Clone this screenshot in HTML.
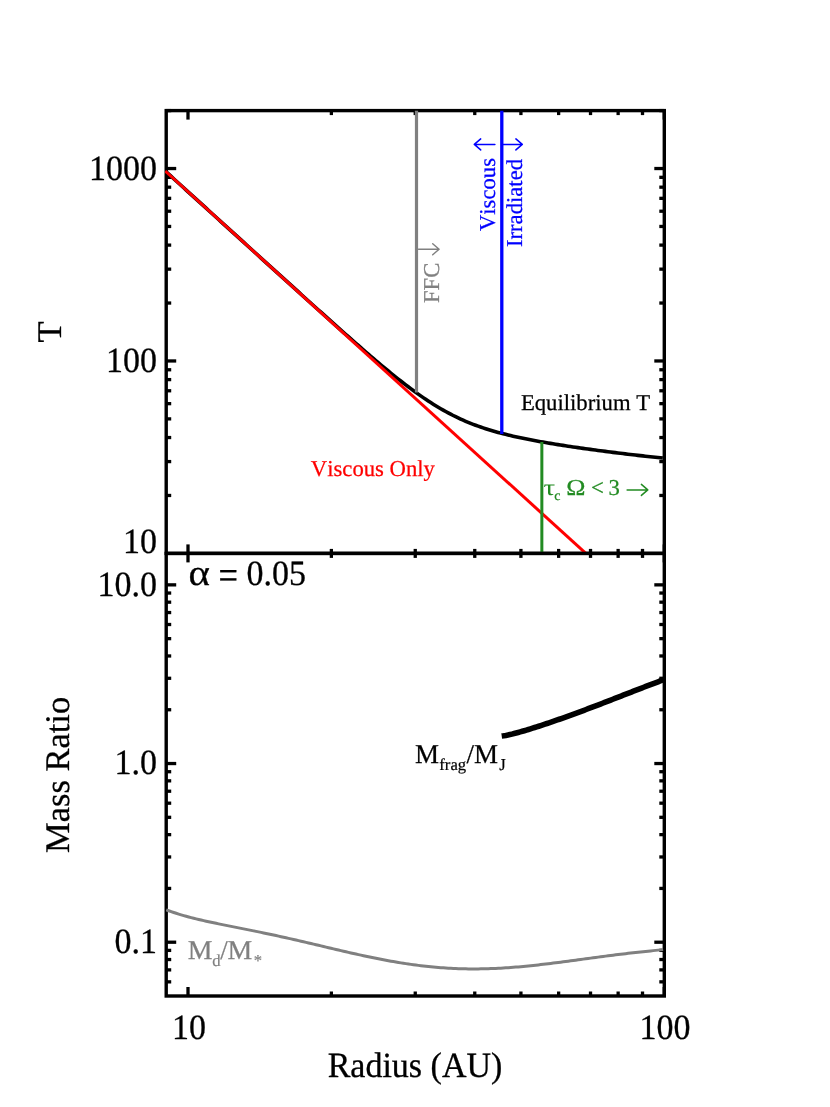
<!DOCTYPE html>
<html><head><meta charset="utf-8"><title>Disk temperature and mass ratio</title>
<style>
html,body{margin:0;padding:0;background:#fff;}
body{width:830px;height:1107px;overflow:hidden;}
svg{display:block;font-family:"Liberation Serif",serif;font-kerning:none;will-change:transform;text-rendering:geometricPrecision;}
</style></head><body>
<svg width="830" height="1107" viewBox="0 0 830 1107">
<defs>
<clipPath id="c1"><rect x="165.01" y="110.60" width="499.29" height="442.80"/></clipPath>
<clipPath id="c2"><rect x="165.71" y="553.40" width="498.59" height="442.60"/></clipPath>
</defs>
<rect width="830" height="1107" fill="#fff"/>
<rect x="166.21" y="110.60" width="498.09" height="442.80" fill="none" stroke="#000" stroke-width="3.4"/>
<line x1="188.00" y1="110.60" x2="188.00" y2="119.60" stroke="#000" stroke-width="3.3" stroke-linecap="butt"/>
<line x1="188.00" y1="553.40" x2="188.00" y2="544.40" stroke="#000" stroke-width="3.3" stroke-linecap="butt"/>
<line x1="331.38" y1="110.60" x2="331.38" y2="115.10" stroke="#000" stroke-width="3.3" stroke-linecap="butt"/>
<line x1="331.38" y1="553.40" x2="331.38" y2="548.90" stroke="#000" stroke-width="3.3" stroke-linecap="butt"/>
<line x1="415.25" y1="110.60" x2="415.25" y2="115.10" stroke="#000" stroke-width="3.3" stroke-linecap="butt"/>
<line x1="415.25" y1="553.40" x2="415.25" y2="548.90" stroke="#000" stroke-width="3.3" stroke-linecap="butt"/>
<line x1="474.76" y1="110.60" x2="474.76" y2="115.10" stroke="#000" stroke-width="3.3" stroke-linecap="butt"/>
<line x1="474.76" y1="553.40" x2="474.76" y2="548.90" stroke="#000" stroke-width="3.3" stroke-linecap="butt"/>
<line x1="520.92" y1="110.60" x2="520.92" y2="115.10" stroke="#000" stroke-width="3.3" stroke-linecap="butt"/>
<line x1="520.92" y1="553.40" x2="520.92" y2="548.90" stroke="#000" stroke-width="3.3" stroke-linecap="butt"/>
<line x1="558.63" y1="110.60" x2="558.63" y2="115.10" stroke="#000" stroke-width="3.3" stroke-linecap="butt"/>
<line x1="558.63" y1="553.40" x2="558.63" y2="548.90" stroke="#000" stroke-width="3.3" stroke-linecap="butt"/>
<line x1="590.52" y1="110.60" x2="590.52" y2="115.10" stroke="#000" stroke-width="3.3" stroke-linecap="butt"/>
<line x1="590.52" y1="553.40" x2="590.52" y2="548.90" stroke="#000" stroke-width="3.3" stroke-linecap="butt"/>
<line x1="618.14" y1="110.60" x2="618.14" y2="115.10" stroke="#000" stroke-width="3.3" stroke-linecap="butt"/>
<line x1="618.14" y1="553.40" x2="618.14" y2="548.90" stroke="#000" stroke-width="3.3" stroke-linecap="butt"/>
<line x1="642.51" y1="110.60" x2="642.51" y2="115.10" stroke="#000" stroke-width="3.3" stroke-linecap="butt"/>
<line x1="642.51" y1="553.40" x2="642.51" y2="548.90" stroke="#000" stroke-width="3.3" stroke-linecap="butt"/>
<line x1="664.30" y1="110.60" x2="664.30" y2="119.60" stroke="#000" stroke-width="3.3" stroke-linecap="butt"/>
<line x1="664.30" y1="553.40" x2="664.30" y2="544.40" stroke="#000" stroke-width="3.3" stroke-linecap="butt"/>
<line x1="166.21" y1="495.47" x2="171.21" y2="495.47" stroke="#000" stroke-width="3.3" stroke-linecap="butt"/>
<line x1="664.30" y1="495.47" x2="659.30" y2="495.47" stroke="#000" stroke-width="3.3" stroke-linecap="butt"/>
<line x1="166.21" y1="461.58" x2="171.21" y2="461.58" stroke="#000" stroke-width="3.3" stroke-linecap="butt"/>
<line x1="664.30" y1="461.58" x2="659.30" y2="461.58" stroke="#000" stroke-width="3.3" stroke-linecap="butt"/>
<line x1="166.21" y1="437.54" x2="171.21" y2="437.54" stroke="#000" stroke-width="3.3" stroke-linecap="butt"/>
<line x1="664.30" y1="437.54" x2="659.30" y2="437.54" stroke="#000" stroke-width="3.3" stroke-linecap="butt"/>
<line x1="166.21" y1="418.89" x2="171.21" y2="418.89" stroke="#000" stroke-width="3.3" stroke-linecap="butt"/>
<line x1="664.30" y1="418.89" x2="659.30" y2="418.89" stroke="#000" stroke-width="3.3" stroke-linecap="butt"/>
<line x1="166.21" y1="403.66" x2="171.21" y2="403.66" stroke="#000" stroke-width="3.3" stroke-linecap="butt"/>
<line x1="664.30" y1="403.66" x2="659.30" y2="403.66" stroke="#000" stroke-width="3.3" stroke-linecap="butt"/>
<line x1="166.21" y1="390.77" x2="171.21" y2="390.77" stroke="#000" stroke-width="3.3" stroke-linecap="butt"/>
<line x1="664.30" y1="390.77" x2="659.30" y2="390.77" stroke="#000" stroke-width="3.3" stroke-linecap="butt"/>
<line x1="166.21" y1="379.61" x2="171.21" y2="379.61" stroke="#000" stroke-width="3.3" stroke-linecap="butt"/>
<line x1="664.30" y1="379.61" x2="659.30" y2="379.61" stroke="#000" stroke-width="3.3" stroke-linecap="butt"/>
<line x1="166.21" y1="369.77" x2="171.21" y2="369.77" stroke="#000" stroke-width="3.3" stroke-linecap="butt"/>
<line x1="664.30" y1="369.77" x2="659.30" y2="369.77" stroke="#000" stroke-width="3.3" stroke-linecap="butt"/>
<line x1="166.21" y1="360.96" x2="176.21" y2="360.96" stroke="#000" stroke-width="3.3" stroke-linecap="butt"/>
<line x1="664.30" y1="360.96" x2="654.30" y2="360.96" stroke="#000" stroke-width="3.3" stroke-linecap="butt"/>
<line x1="166.21" y1="303.04" x2="171.21" y2="303.04" stroke="#000" stroke-width="3.3" stroke-linecap="butt"/>
<line x1="664.30" y1="303.04" x2="659.30" y2="303.04" stroke="#000" stroke-width="3.3" stroke-linecap="butt"/>
<line x1="166.21" y1="269.15" x2="171.21" y2="269.15" stroke="#000" stroke-width="3.3" stroke-linecap="butt"/>
<line x1="664.30" y1="269.15" x2="659.30" y2="269.15" stroke="#000" stroke-width="3.3" stroke-linecap="butt"/>
<line x1="166.21" y1="245.11" x2="171.21" y2="245.11" stroke="#000" stroke-width="3.3" stroke-linecap="butt"/>
<line x1="664.30" y1="245.11" x2="659.30" y2="245.11" stroke="#000" stroke-width="3.3" stroke-linecap="butt"/>
<line x1="166.21" y1="226.46" x2="171.21" y2="226.46" stroke="#000" stroke-width="3.3" stroke-linecap="butt"/>
<line x1="664.30" y1="226.46" x2="659.30" y2="226.46" stroke="#000" stroke-width="3.3" stroke-linecap="butt"/>
<line x1="166.21" y1="211.22" x2="171.21" y2="211.22" stroke="#000" stroke-width="3.3" stroke-linecap="butt"/>
<line x1="664.30" y1="211.22" x2="659.30" y2="211.22" stroke="#000" stroke-width="3.3" stroke-linecap="butt"/>
<line x1="166.21" y1="198.34" x2="171.21" y2="198.34" stroke="#000" stroke-width="3.3" stroke-linecap="butt"/>
<line x1="664.30" y1="198.34" x2="659.30" y2="198.34" stroke="#000" stroke-width="3.3" stroke-linecap="butt"/>
<line x1="166.21" y1="187.18" x2="171.21" y2="187.18" stroke="#000" stroke-width="3.3" stroke-linecap="butt"/>
<line x1="664.30" y1="187.18" x2="659.30" y2="187.18" stroke="#000" stroke-width="3.3" stroke-linecap="butt"/>
<line x1="166.21" y1="177.33" x2="171.21" y2="177.33" stroke="#000" stroke-width="3.3" stroke-linecap="butt"/>
<line x1="664.30" y1="177.33" x2="659.30" y2="177.33" stroke="#000" stroke-width="3.3" stroke-linecap="butt"/>
<line x1="166.21" y1="168.53" x2="176.21" y2="168.53" stroke="#000" stroke-width="3.3" stroke-linecap="butt"/>
<line x1="664.30" y1="168.53" x2="654.30" y2="168.53" stroke="#000" stroke-width="3.3" stroke-linecap="butt"/>
<line x1="166.21" y1="110.60" x2="171.21" y2="110.60" stroke="#000" stroke-width="3.3" stroke-linecap="butt"/>
<line x1="664.30" y1="110.60" x2="659.30" y2="110.60" stroke="#000" stroke-width="3.3" stroke-linecap="butt"/>
<g clip-path="url(#c1)">
<path d="M166.21,171.90 L168.70,174.17 L171.20,176.44 L173.69,178.71 L176.19,180.97 L178.68,183.24 L181.18,185.51 L183.67,187.78 L186.17,190.05 L188.66,192.31 L191.16,194.58 L193.66,196.85 L196.15,199.12 L198.65,201.39 L201.14,203.65 L203.64,205.92 L206.13,208.19 L208.63,210.46 L211.12,212.72 L213.62,214.99 L216.11,217.26 L218.61,219.53 L221.11,221.79 L223.60,224.06 L226.10,226.33 L228.59,228.59 L231.09,230.86 L233.58,233.13 L236.08,235.39 L238.57,237.66 L241.07,239.93 L243.56,242.19 L246.06,244.46 L248.56,246.73 L251.05,248.99 L253.55,251.26 L256.04,253.52 L258.54,255.79 L261.03,258.05 L263.53,260.32 L266.02,262.58 L268.52,264.84 L271.01,267.11 L273.51,269.37 L276.01,271.63 L278.50,273.89 L281.00,276.15 L283.49,278.42 L285.99,280.68 L288.48,282.93 L290.98,285.19 L293.47,287.45 L295.97,289.71 L298.46,291.96 L300.96,294.22 L303.46,296.47 L305.95,298.73 L308.45,300.98 L310.94,303.23 L313.44,305.48 L315.93,307.72 L318.43,309.97 L320.92,312.21 L323.42,314.45 L325.91,316.69 L328.41,318.93 L330.91,321.16 L333.40,323.39 L335.90,325.62 L338.39,327.85 L340.89,330.07 L343.38,332.28 L345.88,334.50 L348.37,336.71 L350.87,338.91 L353.36,341.11 L355.86,343.30 L358.36,345.48 L360.85,347.66 L363.35,349.83 L365.84,352.00 L368.34,354.15 L370.83,356.30 L373.33,358.43 L375.82,360.56 L378.32,362.67 L380.81,364.78 L383.31,366.87 L385.81,368.94 L388.30,371.00 L390.80,373.04 L393.29,375.07 L395.79,377.08 L398.28,379.07 L400.78,381.03 L403.27,382.98 L405.77,384.90 L408.26,386.80 L410.76,388.68 L413.26,390.52 L415.75,392.34 L418.25,394.13 L420.74,395.89 L423.24,397.62 L425.73,399.31 L428.23,400.97 L430.72,402.59 L433.22,404.18 L435.71,405.73 L438.21,407.24 L440.71,408.71 L443.20,410.15 L445.70,411.54 L448.19,412.90 L450.69,414.21 L453.18,415.49 L455.68,416.73 L458.17,417.92 L460.67,419.08 L463.16,420.20 L465.66,421.28 L468.16,422.33 L470.65,423.34 L473.15,424.32 L475.64,425.26 L478.14,426.17 L480.63,427.05 L483.13,427.89 L485.62,428.71 L488.12,429.50 L490.61,430.27 L493.11,431.01 L495.60,431.72 L498.10,432.41 L500.60,433.08 L503.09,433.73 L505.59,434.36 L508.08,434.97 L510.58,435.57 L513.07,436.15 L515.57,436.71 L518.06,437.26 L520.56,437.79 L523.05,438.31 L525.55,438.82 L528.05,439.32 L530.54,439.81 L533.04,440.29 L535.53,440.75 L538.03,441.21 L540.52,441.66 L543.02,442.10 L545.51,442.54 L548.01,442.97 L550.50,443.39 L553.00,443.80 L555.50,444.21 L557.99,444.61 L560.49,445.01 L562.98,445.40 L565.48,445.78 L567.97,446.16 L570.47,446.54 L572.96,446.91 L575.46,447.28 L577.95,447.64 L580.45,448.00 L582.95,448.36 L585.44,448.71 L587.94,449.05 L590.43,449.40 L592.93,449.74 L595.42,450.08 L597.92,450.41 L600.41,450.74 L602.91,451.07 L605.40,451.39 L607.90,451.71 L610.40,452.03 L612.89,452.35 L615.39,452.66 L617.88,452.97 L620.38,453.27 L622.87,453.58 L625.37,453.88 L627.86,454.17 L630.36,454.47 L632.85,454.76 L635.35,455.05 L637.85,455.34 L640.34,455.62 L642.84,455.90 L645.33,456.18 L647.83,456.46 L650.32,456.73 L652.82,457.00 L655.31,457.27 L657.81,457.54 L660.30,457.80 L662.80,458.06" fill="none" stroke="#000" stroke-width="3.6" stroke-linejoin="round" />
<line x1="165.20" y1="170.99" x2="590.00" y2="557.13" stroke="#ff0000" stroke-width="3.0" stroke-linecap="butt"/>
<line x1="416.50" y1="110.60" x2="416.50" y2="392.38" stroke="#808080" stroke-width="3.2" stroke-linecap="butt"/>
<line x1="501.80" y1="110.60" x2="501.80" y2="433.90" stroke="#0000ff" stroke-width="3.3" stroke-linecap="butt"/>
<line x1="541.85" y1="441.90" x2="541.85" y2="553.40" stroke="#228b22" stroke-width="3.0" stroke-linecap="butt"/>
</g>
<rect x="166.21" y="553.40" width="498.09" height="442.60" fill="none" stroke="#000" stroke-width="3.4"/>
<line x1="188.00" y1="553.40" x2="188.00" y2="562.40" stroke="#000" stroke-width="3.3" stroke-linecap="butt"/>
<line x1="188.00" y1="996.00" x2="188.00" y2="987.00" stroke="#000" stroke-width="3.3" stroke-linecap="butt"/>
<line x1="331.38" y1="553.40" x2="331.38" y2="557.90" stroke="#000" stroke-width="3.3" stroke-linecap="butt"/>
<line x1="331.38" y1="996.00" x2="331.38" y2="991.50" stroke="#000" stroke-width="3.3" stroke-linecap="butt"/>
<line x1="415.25" y1="553.40" x2="415.25" y2="557.90" stroke="#000" stroke-width="3.3" stroke-linecap="butt"/>
<line x1="415.25" y1="996.00" x2="415.25" y2="991.50" stroke="#000" stroke-width="3.3" stroke-linecap="butt"/>
<line x1="474.76" y1="553.40" x2="474.76" y2="557.90" stroke="#000" stroke-width="3.3" stroke-linecap="butt"/>
<line x1="474.76" y1="996.00" x2="474.76" y2="991.50" stroke="#000" stroke-width="3.3" stroke-linecap="butt"/>
<line x1="520.92" y1="553.40" x2="520.92" y2="557.90" stroke="#000" stroke-width="3.3" stroke-linecap="butt"/>
<line x1="520.92" y1="996.00" x2="520.92" y2="991.50" stroke="#000" stroke-width="3.3" stroke-linecap="butt"/>
<line x1="558.63" y1="553.40" x2="558.63" y2="557.90" stroke="#000" stroke-width="3.3" stroke-linecap="butt"/>
<line x1="558.63" y1="996.00" x2="558.63" y2="991.50" stroke="#000" stroke-width="3.3" stroke-linecap="butt"/>
<line x1="590.52" y1="553.40" x2="590.52" y2="557.90" stroke="#000" stroke-width="3.3" stroke-linecap="butt"/>
<line x1="590.52" y1="996.00" x2="590.52" y2="991.50" stroke="#000" stroke-width="3.3" stroke-linecap="butt"/>
<line x1="618.14" y1="553.40" x2="618.14" y2="557.90" stroke="#000" stroke-width="3.3" stroke-linecap="butt"/>
<line x1="618.14" y1="996.00" x2="618.14" y2="991.50" stroke="#000" stroke-width="3.3" stroke-linecap="butt"/>
<line x1="642.51" y1="553.40" x2="642.51" y2="557.90" stroke="#000" stroke-width="3.3" stroke-linecap="butt"/>
<line x1="642.51" y1="996.00" x2="642.51" y2="991.50" stroke="#000" stroke-width="3.3" stroke-linecap="butt"/>
<line x1="664.30" y1="553.40" x2="664.30" y2="562.40" stroke="#000" stroke-width="3.3" stroke-linecap="butt"/>
<line x1="664.30" y1="996.00" x2="664.30" y2="987.00" stroke="#000" stroke-width="3.3" stroke-linecap="butt"/>
<line x1="166.21" y1="981.85" x2="171.21" y2="981.85" stroke="#000" stroke-width="3.3" stroke-linecap="butt"/>
<line x1="664.30" y1="981.85" x2="659.30" y2="981.85" stroke="#000" stroke-width="3.3" stroke-linecap="butt"/>
<line x1="166.21" y1="969.89" x2="171.21" y2="969.89" stroke="#000" stroke-width="3.3" stroke-linecap="butt"/>
<line x1="664.30" y1="969.89" x2="659.30" y2="969.89" stroke="#000" stroke-width="3.3" stroke-linecap="butt"/>
<line x1="166.21" y1="959.53" x2="171.21" y2="959.53" stroke="#000" stroke-width="3.3" stroke-linecap="butt"/>
<line x1="664.30" y1="959.53" x2="659.30" y2="959.53" stroke="#000" stroke-width="3.3" stroke-linecap="butt"/>
<line x1="166.21" y1="950.39" x2="171.21" y2="950.39" stroke="#000" stroke-width="3.3" stroke-linecap="butt"/>
<line x1="664.30" y1="950.39" x2="659.30" y2="950.39" stroke="#000" stroke-width="3.3" stroke-linecap="butt"/>
<line x1="166.21" y1="942.21" x2="176.21" y2="942.21" stroke="#000" stroke-width="3.3" stroke-linecap="butt"/>
<line x1="664.30" y1="942.21" x2="654.30" y2="942.21" stroke="#000" stroke-width="3.3" stroke-linecap="butt"/>
<line x1="166.21" y1="888.43" x2="171.21" y2="888.43" stroke="#000" stroke-width="3.3" stroke-linecap="butt"/>
<line x1="664.30" y1="888.43" x2="659.30" y2="888.43" stroke="#000" stroke-width="3.3" stroke-linecap="butt"/>
<line x1="166.21" y1="856.96" x2="171.21" y2="856.96" stroke="#000" stroke-width="3.3" stroke-linecap="butt"/>
<line x1="664.30" y1="856.96" x2="659.30" y2="856.96" stroke="#000" stroke-width="3.3" stroke-linecap="butt"/>
<line x1="166.21" y1="834.64" x2="171.21" y2="834.64" stroke="#000" stroke-width="3.3" stroke-linecap="butt"/>
<line x1="664.30" y1="834.64" x2="659.30" y2="834.64" stroke="#000" stroke-width="3.3" stroke-linecap="butt"/>
<line x1="166.21" y1="817.32" x2="171.21" y2="817.32" stroke="#000" stroke-width="3.3" stroke-linecap="butt"/>
<line x1="664.30" y1="817.32" x2="659.30" y2="817.32" stroke="#000" stroke-width="3.3" stroke-linecap="butt"/>
<line x1="166.21" y1="803.18" x2="171.21" y2="803.18" stroke="#000" stroke-width="3.3" stroke-linecap="butt"/>
<line x1="664.30" y1="803.18" x2="659.30" y2="803.18" stroke="#000" stroke-width="3.3" stroke-linecap="butt"/>
<line x1="166.21" y1="791.22" x2="171.21" y2="791.22" stroke="#000" stroke-width="3.3" stroke-linecap="butt"/>
<line x1="664.30" y1="791.22" x2="659.30" y2="791.22" stroke="#000" stroke-width="3.3" stroke-linecap="butt"/>
<line x1="166.21" y1="780.85" x2="171.21" y2="780.85" stroke="#000" stroke-width="3.3" stroke-linecap="butt"/>
<line x1="664.30" y1="780.85" x2="659.30" y2="780.85" stroke="#000" stroke-width="3.3" stroke-linecap="butt"/>
<line x1="166.21" y1="771.71" x2="171.21" y2="771.71" stroke="#000" stroke-width="3.3" stroke-linecap="butt"/>
<line x1="664.30" y1="771.71" x2="659.30" y2="771.71" stroke="#000" stroke-width="3.3" stroke-linecap="butt"/>
<line x1="166.21" y1="763.54" x2="176.21" y2="763.54" stroke="#000" stroke-width="3.3" stroke-linecap="butt"/>
<line x1="664.30" y1="763.54" x2="654.30" y2="763.54" stroke="#000" stroke-width="3.3" stroke-linecap="butt"/>
<line x1="166.21" y1="709.75" x2="171.21" y2="709.75" stroke="#000" stroke-width="3.3" stroke-linecap="butt"/>
<line x1="664.30" y1="709.75" x2="659.30" y2="709.75" stroke="#000" stroke-width="3.3" stroke-linecap="butt"/>
<line x1="166.21" y1="678.29" x2="171.21" y2="678.29" stroke="#000" stroke-width="3.3" stroke-linecap="butt"/>
<line x1="664.30" y1="678.29" x2="659.30" y2="678.29" stroke="#000" stroke-width="3.3" stroke-linecap="butt"/>
<line x1="166.21" y1="655.97" x2="171.21" y2="655.97" stroke="#000" stroke-width="3.3" stroke-linecap="butt"/>
<line x1="664.30" y1="655.97" x2="659.30" y2="655.97" stroke="#000" stroke-width="3.3" stroke-linecap="butt"/>
<line x1="166.21" y1="638.65" x2="171.21" y2="638.65" stroke="#000" stroke-width="3.3" stroke-linecap="butt"/>
<line x1="664.30" y1="638.65" x2="659.30" y2="638.65" stroke="#000" stroke-width="3.3" stroke-linecap="butt"/>
<line x1="166.21" y1="624.50" x2="171.21" y2="624.50" stroke="#000" stroke-width="3.3" stroke-linecap="butt"/>
<line x1="664.30" y1="624.50" x2="659.30" y2="624.50" stroke="#000" stroke-width="3.3" stroke-linecap="butt"/>
<line x1="166.21" y1="612.54" x2="171.21" y2="612.54" stroke="#000" stroke-width="3.3" stroke-linecap="butt"/>
<line x1="664.30" y1="612.54" x2="659.30" y2="612.54" stroke="#000" stroke-width="3.3" stroke-linecap="butt"/>
<line x1="166.21" y1="602.18" x2="171.21" y2="602.18" stroke="#000" stroke-width="3.3" stroke-linecap="butt"/>
<line x1="664.30" y1="602.18" x2="659.30" y2="602.18" stroke="#000" stroke-width="3.3" stroke-linecap="butt"/>
<line x1="166.21" y1="593.04" x2="171.21" y2="593.04" stroke="#000" stroke-width="3.3" stroke-linecap="butt"/>
<line x1="664.30" y1="593.04" x2="659.30" y2="593.04" stroke="#000" stroke-width="3.3" stroke-linecap="butt"/>
<line x1="166.21" y1="584.86" x2="176.21" y2="584.86" stroke="#000" stroke-width="3.3" stroke-linecap="butt"/>
<line x1="664.30" y1="584.86" x2="654.30" y2="584.86" stroke="#000" stroke-width="3.3" stroke-linecap="butt"/>
<g clip-path="url(#c2)">
<path d="M166.21,909.79 L168.70,910.72 L171.20,911.62 L173.70,912.47 L176.19,913.29 L178.69,914.08 L181.19,914.84 L183.68,915.57 L186.18,916.28 L188.68,916.96 L191.18,917.61 L193.67,918.25 L196.17,918.87 L198.67,919.47 L201.16,920.06 L203.66,920.63 L206.16,921.19 L208.65,921.74 L211.15,922.28 L213.65,922.81 L216.14,923.33 L218.64,923.85 L221.14,924.36 L223.64,924.86 L226.13,925.37 L228.63,925.87 L231.13,926.36 L233.62,926.86 L236.12,927.36 L238.62,927.85 L241.11,928.35 L243.61,928.85 L246.11,929.35 L248.61,929.85 L251.10,930.35 L253.60,930.86 L256.10,931.37 L258.59,931.88 L261.09,932.40 L263.59,932.92 L266.08,933.44 L268.58,933.97 L271.08,934.50 L273.57,935.04 L276.07,935.58 L278.57,936.13 L281.07,936.68 L283.56,937.23 L286.06,937.79 L288.56,938.35 L291.05,938.91 L293.55,939.48 L296.05,940.06 L298.54,940.63 L301.04,941.21 L303.54,941.79 L306.04,942.37 L308.53,942.96 L311.03,943.55 L313.53,944.13 L316.02,944.72 L318.52,945.32 L321.02,945.91 L323.51,946.50 L326.01,947.09 L328.51,947.68 L331.00,948.27 L333.50,948.86 L336.00,949.45 L338.50,950.03 L340.99,950.62 L343.49,951.20 L345.99,951.77 L348.48,952.35 L350.98,952.92 L353.48,953.48 L355.97,954.04 L358.47,954.60 L360.97,955.15 L363.47,955.69 L365.96,956.23 L368.46,956.76 L370.96,957.28 L373.45,957.79 L375.95,958.30 L378.45,958.80 L380.94,959.29 L383.44,959.77 L385.94,960.24 L388.43,960.71 L390.93,961.16 L393.43,961.60 L395.93,962.03 L398.42,962.45 L400.92,962.86 L403.42,963.25 L405.91,963.64 L408.41,964.01 L410.91,964.37 L413.40,964.72 L415.90,965.06 L418.40,965.38 L420.90,965.69 L423.39,965.98 L425.89,966.26 L428.39,966.53 L430.88,966.79 L433.38,967.03 L435.88,967.25 L438.37,967.47 L440.87,967.66 L443.37,967.85 L445.86,968.02 L448.36,968.17 L450.86,968.31 L453.36,968.44 L455.85,968.55 L458.35,968.64 L460.85,968.72 L463.34,968.79 L465.84,968.85 L468.34,968.88 L470.83,968.91 L473.33,968.92 L475.83,968.92 L478.33,968.90 L480.82,968.87 L483.32,968.82 L485.82,968.77 L488.31,968.69 L490.81,968.61 L493.31,968.51 L495.80,968.40 L498.30,968.28 L500.80,968.15 L503.29,968.00 L505.79,967.85 L508.29,967.68 L510.79,967.50 L513.28,967.31 L515.78,967.11 L518.28,966.90 L520.77,966.68 L523.27,966.45 L525.77,966.21 L528.26,965.96 L530.76,965.71 L533.26,965.45 L535.76,965.18 L538.25,964.90 L540.75,964.61 L543.25,964.32 L545.74,964.03 L548.24,963.73 L550.74,963.42 L553.23,963.11 L555.73,962.79 L558.23,962.47 L560.72,962.14 L563.22,961.82 L565.72,961.49 L568.22,961.15 L570.71,960.82 L573.21,960.48 L575.71,960.15 L578.20,959.81 L580.70,959.47 L583.20,959.13 L585.69,958.79 L588.19,958.46 L590.69,958.12 L593.19,957.78 L595.68,957.45 L598.18,957.12 L600.68,956.79 L603.17,956.46 L605.67,956.13 L608.17,955.81 L610.66,955.49 L613.16,955.18 L615.66,954.86 L618.15,954.55 L620.65,954.25 L623.15,953.95 L625.65,953.65 L628.14,953.36 L630.64,953.07 L633.14,952.78 L635.63,952.50 L638.13,952.22 L640.63,951.95 L643.12,951.68 L645.62,951.41 L648.12,951.15 L650.62,950.89 L653.11,950.63 L655.61,950.37 L658.11,950.12 L660.60,949.87 L663.10,949.62" fill="none" stroke="#808080" stroke-width="3.0" stroke-linejoin="round" />
<path d="M501.70,736.10 L503.76,735.82 L505.82,735.46 L507.87,735.05 L509.93,734.59 L511.99,734.10 L514.05,733.58 L516.11,733.04 L518.17,732.47 L520.22,731.90 L522.28,731.31 L524.34,730.70 L526.40,730.09 L528.46,729.47 L530.52,728.83 L532.57,728.19 L534.63,727.54 L536.69,726.89 L538.75,726.22 L540.81,725.55 L542.86,724.87 L544.92,724.19 L546.98,723.50 L549.04,722.81 L551.10,722.11 L553.16,721.40 L555.21,720.69 L557.27,719.97 L559.33,719.25 L561.39,718.52 L563.45,717.79 L565.51,717.06 L567.56,716.32 L569.62,715.58 L571.68,714.83 L573.74,714.08 L575.80,713.32 L577.85,712.56 L579.91,711.80 L581.97,711.04 L584.03,710.27 L586.09,709.50 L588.15,708.73 L590.20,707.95 L592.26,707.17 L594.32,706.39 L596.38,705.61 L598.44,704.83 L600.49,704.04 L602.55,703.24 L604.61,702.44 L606.67,701.64 L608.73,700.84 L610.79,700.04 L612.84,699.24 L614.90,698.44 L616.96,697.64 L619.02,696.84 L621.08,696.03 L623.14,695.23 L625.19,694.43 L627.25,693.63 L629.31,692.82 L631.37,692.02 L633.43,691.22 L635.48,690.43 L637.54,689.63 L639.60,688.83 L641.66,688.04 L643.72,687.25 L645.78,686.46 L647.83,685.67 L649.89,684.88 L651.95,684.10 L654.01,683.32 L656.07,682.54 L658.13,681.76 L660.18,680.99 L662.24,680.22 L664.30,679.46" fill="none" stroke="#000" stroke-width="5.6" stroke-linejoin="round" />
</g>
<text transform="translate(157.00,180.40) scale(0.985,1.03)" font-size="34.5" text-anchor="end" fill="#000" stroke="#000" stroke-width="0.3" >1000</text>
<text transform="translate(157.00,372.00) scale(0.985,1.03)" font-size="34.5" text-anchor="end" fill="#000" stroke="#000" stroke-width="0.3" >100</text>
<text transform="translate(157.00,553.10) scale(0.985,1.03)" font-size="34.5" text-anchor="end" fill="#000" stroke="#000" stroke-width="0.3" >10</text>
<text transform="translate(157.00,596.00) scale(0.985,1.03)" font-size="34.5" text-anchor="end" fill="#000" stroke="#000" stroke-width="0.3" >10.0</text>
<text transform="translate(157.00,774.30) scale(0.985,1.03)" font-size="34.5" text-anchor="end" fill="#000" stroke="#000" stroke-width="0.3" >1.0</text>
<text transform="translate(157.00,953.20) scale(0.985,1.03)" font-size="34.5" text-anchor="end" fill="#000" stroke="#000" stroke-width="0.3" >0.1</text>
<text transform="translate(189.00,1039.00) scale(0.985,1.03)" font-size="34.5" text-anchor="middle" fill="#000" stroke="#000" stroke-width="0.3" >10</text>
<text transform="translate(665.00,1039.00) scale(0.985,1.03)" font-size="34.5" text-anchor="middle" fill="#000" stroke="#000" stroke-width="0.3" >100</text>
<text transform="translate(415.00,1076.80) scale(0.985,1.03)" font-size="34.5" text-anchor="middle" fill="#000" stroke="#000" stroke-width="0.3" >Radius (AU)</text>
<text transform="translate(60.5,332) rotate(-90)" font-size="34.5" text-anchor="middle" stroke="#000" stroke-width="0.3">T</text>
<text transform="translate(68.8,774.9) rotate(-90)" font-size="34.5" text-anchor="middle" stroke="#000" stroke-width="0.3">Mass Ratio</text>
<text transform="translate(188.60,584.80) scale(1.12,1.0)" font-size="36.5" text-anchor="start" fill="#000" stroke="#000" stroke-width="0.3" >α</text>
<text transform="translate(218.60,588.60) scale(1.0,1.2)" font-size="34.5" text-anchor="start" fill="#000" stroke="#000" stroke-width="0.3" >=</text>
<text transform="translate(246.60,584.80) scale(0.985,1.03)" font-size="34.5" text-anchor="start" fill="#000" stroke="#000" stroke-width="0.3" >0.05</text>
<text transform="translate(520.90,410.30) scale(1.0,1.0)" font-size="22.7" text-anchor="start" fill="#000" stroke="#000" stroke-width="0.25" >Equilibrium T</text>
<text transform="translate(310.80,476.20) scale(1.0,1.0)" font-size="22.7" text-anchor="start" fill="#ff0000" stroke="#ff0000" stroke-width="0.25" >Viscous Only</text>
<text transform="translate(543.60,495.30) scale(1.28,1.0)" font-size="22.7" text-anchor="start" fill="#228b22" stroke="#228b22" stroke-width="0" >τ</text>
<text transform="translate(554.30,500.10) scale(1.0,1.0)" font-size="14" text-anchor="start" fill="#228b22" stroke="#228b22" stroke-width="0.2" >c</text>
<text transform="translate(566.20,495.30) scale(1.14,1.0)" font-size="22.7" text-anchor="start" fill="#228b22" stroke="#228b22" stroke-width="0.25" >Ω</text>
<text transform="translate(591.00,495.30) scale(1.0,1.0)" font-size="22.7" text-anchor="start" fill="#228b22" stroke="#228b22" stroke-width="0.25" >&lt;</text>
<text transform="translate(608.40,495.30) scale(1.0,1.0)" font-size="22.7" text-anchor="start" fill="#228b22" stroke="#228b22" stroke-width="0.25" >3</text>
<path d="M627.10,489.90 L647.80,489.90 M641.40,495.40 L647.80,489.90 L641.40,484.40" fill="none" stroke="#228b22" stroke-width="1.5" stroke-linejoin="round" stroke-linecap="round"/>
<text transform="translate(415.00,762.80) scale(1.0,1.0)" font-size="27" text-anchor="start" fill="#000" stroke="#000" stroke-width="0.25" >M</text>
<text transform="translate(439.30,769.60) scale(1.0,1.0)" font-size="16.7" text-anchor="start" fill="#000" stroke="#000" stroke-width="0.2" >frag</text>
<text transform="translate(466.60,762.80) scale(1.0,1.0)" font-size="27" text-anchor="start" fill="#000" stroke="#000" stroke-width="0.25" >/</text>
<text transform="translate(474.00,762.80) scale(1.0,1.0)" font-size="27" text-anchor="start" fill="#000" stroke="#000" stroke-width="0.25" >M</text>
<text transform="translate(499.30,769.60) scale(1.0,1.0)" font-size="16.7" text-anchor="start" fill="#000" stroke="#000" stroke-width="0.2" >J</text>
<text transform="translate(187.80,959.00) scale(1.03,1.0)" font-size="27" text-anchor="start" fill="#808080" stroke="#808080" stroke-width="0.25" >M</text>
<text transform="translate(212.20,965.50) scale(1.0,1.0)" font-size="16.7" text-anchor="start" fill="#808080" stroke="#808080" stroke-width="0.2" >d</text>
<text transform="translate(220.30,959.00) scale(1.0,1.0)" font-size="27" text-anchor="start" fill="#808080" stroke="#808080" stroke-width="0.25" >/</text>
<text transform="translate(227.50,959.00) scale(1.03,1.0)" font-size="27" text-anchor="start" fill="#808080" stroke="#808080" stroke-width="0.25" >M</text>
<text transform="translate(253.80,966.00) scale(1.0,1.0)" font-size="16.7" text-anchor="start" fill="#808080" stroke="#808080" stroke-width="0.2" >*</text>
<text transform="translate(495.3,231.1) rotate(-90)" font-size="22.7" fill="#0000ff" stroke="#0000ff" stroke-width="0.25">Viscous</text>
<text transform="translate(521.9,247.1) rotate(-90)" font-size="22.7" fill="#0000ff" stroke="#0000ff" stroke-width="0.25">Irradiated</text>
<text transform="translate(439.1,303.1) rotate(-90)" font-size="22.7" fill="#808080" stroke="#808080" stroke-width="0.25">FFC</text>
<path d="M494.90,144.40 L474.30,144.40 M480.70,138.90 L474.30,144.40 L480.70,149.90" fill="none" stroke="#0000ff" stroke-width="1.5" stroke-linejoin="round" stroke-linecap="round"/>
<path d="M501.70,144.40 L522.30,144.40 M515.90,149.90 L522.30,144.40 L515.90,138.90" fill="none" stroke="#0000ff" stroke-width="1.5" stroke-linejoin="round" stroke-linecap="round"/>
<path d="M418.50,249.20 L439.10,249.20 M432.70,254.70 L439.10,249.20 L432.70,243.70" fill="none" stroke="#808080" stroke-width="1.5" stroke-linejoin="round" stroke-linecap="round"/>
</svg>
</body></html>
